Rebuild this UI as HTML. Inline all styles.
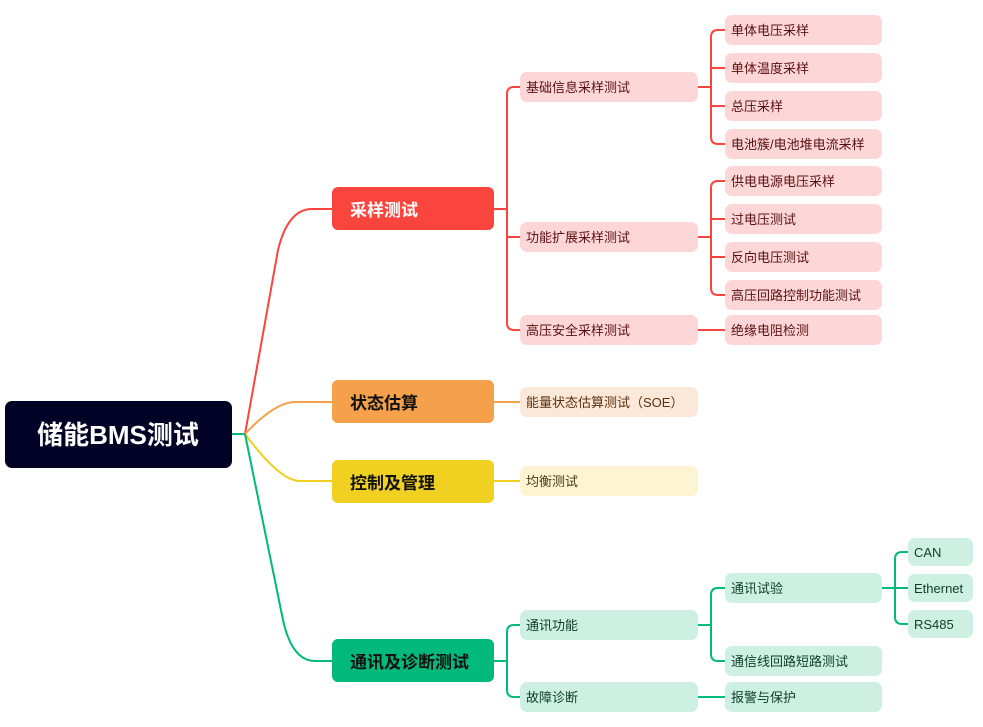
<!DOCTYPE html>
<html><head><meta charset="utf-8"><style>
html,body{margin:0;padding:0;background:#fff;}
svg{display:block;font-family:"Liberation Sans","Noto Sans CJK SC",sans-serif;}
</style></head><body>
<svg width="983" height="727" viewBox="0 0 983 727" xmlns="http://www.w3.org/2000/svg">
<g fill="none" stroke-width="2">
<!-- root to level2 -->
<path d="M232 434 H245" stroke="#00b97a"/>
<path d="M245 434 L278 250 Q288 209 312 209 H332" stroke="#f9453d"/>
<path d="M245 434 Q275 402 295 402 H332" stroke="#f5a04a"/>
<path d="M245 434 Q280 481 300 481 H332" stroke="#f0cf22"/>
<path d="M245 434 L283 620 Q292 661 315 661 H332" stroke="#00b97a"/>
<!-- red -->
<g stroke="#f9453d">
<path d="M494 209 H507"/>
<path d="M520 87 H514 Q507 87 507 94 V323 Q507 330 514 330 H520"/>
<path d="M507 237 H520"/>
<path d="M698 87 H711"/>
<path d="M725 30 H718 Q711 30 711 37 V137 Q711 144 718 144 H725"/>
<path d="M711 68 Q711 68 725 68"/><path d="M711 106 H725"/>
<path d="M698 237 H711"/>
<path d="M725 181 H718 Q711 181 711 188 V288 Q711 295 718 295 H725"/>
<path d="M711 219 H725"/><path d="M711 257 H725"/>
<path d="M698 330 H725"/>
</g>
<path d="M494 402 H520" stroke="#f5a04a"/>
<path d="M494 481 H520" stroke="#f0cf22"/>
<g stroke="#00b97a">
<path d="M482 661 H507"/>
<path d="M520 625 H514 Q507 625 507 632 V690 Q507 697 514 697 H520"/>
<path d="M698 625 H711"/>
<path d="M725 588 H718 Q711 588 711 595 V654 Q711 661 718 661 H725"/>
<path d="M698 697 H725"/>
<path d="M882 588 H895"/>
<path d="M908 552 H902 Q895 552 895 559 V617 Q895 624 902 624 H908"/>
<path d="M895 588 H908"/>
</g>
</g>
<!-- root -->
<rect x="5" y="401" width="227" height="67" rx="7" fill="#020226"/>
<text x="118" y="444" font-size="26" font-weight="bold" fill="#fff" text-anchor="middle">储能BMS测试</text>
<!-- level2 -->
<rect x="332" y="187" width="162" height="43" rx="6" fill="#f9453d"/>
<text x="350" y="216" font-size="17" font-weight="bold" fill="#fff">采样测试</text>
<rect x="332" y="380" width="162" height="43" rx="6" fill="#f5a04a"/>
<text x="350" y="409" font-size="17" font-weight="bold" fill="#111">状态估算</text>
<rect x="332" y="460" width="162" height="43" rx="6" fill="#f0d021"/>
<text x="350" y="489" font-size="17" font-weight="bold" fill="#111">控制及管理</text>
<rect x="332" y="639" width="162" height="43" rx="6" fill="#00b97a"/>
<text x="350" y="668" font-size="17" font-weight="bold" fill="#111">通讯及诊断测试</text>
<!-- level3 -->
<g font-size="13">
<g fill="#fdd7d7">
<rect x="520" y="72" width="178" height="30" rx="7"/>
<rect x="520" y="222" width="178" height="30" rx="7"/>
<rect x="520" y="315" width="178" height="30" rx="7"/>
<rect x="725" y="15" width="157" height="30" rx="7"/>
<rect x="725" y="53" width="157" height="30" rx="7"/>
<rect x="725" y="91" width="157" height="30" rx="7"/>
<rect x="725" y="129" width="157" height="30" rx="7"/>
<rect x="725" y="166" width="157" height="30" rx="7"/>
<rect x="725" y="204" width="157" height="30" rx="7"/>
<rect x="725" y="242" width="157" height="30" rx="7"/>
<rect x="725" y="280" width="157" height="30" rx="7"/>
<rect x="725" y="315" width="157" height="30" rx="7"/>
</g>
<g fill="#5a1010">
<text x="526" y="92">基础信息采样测试</text>
<text x="526" y="242">功能扩展采样测试</text>
<text x="526" y="335">高压安全采样测试</text>
<text x="731" y="35">单体电压采样</text>
<text x="731" y="73">单体温度采样</text>
<text x="731" y="111">总压采样</text>
<text x="731" y="149">电池簇/电池堆电流采样</text>
<text x="731" y="186">供电电源电压采样</text>
<text x="731" y="224">过电压测试</text>
<text x="731" y="262">反向电压测试</text>
<text x="731" y="300">高压回路控制功能测试</text>
<text x="731" y="335">绝缘电阻检测</text>
</g>
<rect x="520" y="387" width="178" height="30" rx="7" fill="#fce8d8"/>
<text x="526" y="407" fill="#5a3010">能量状态估算测试（SOE）</text>
<rect x="520" y="466" width="178" height="30" rx="7" fill="#fcf4d2"/>
<text x="526" y="486" fill="#4a3a10">均衡测试</text>
<g fill="#cdf0e3">
<rect x="520" y="610" width="178" height="30" rx="7"/>
<rect x="520" y="682" width="178" height="30" rx="7"/>
<rect x="725" y="573" width="157" height="30" rx="7"/>
<rect x="725" y="646" width="157" height="30" rx="7"/>
<rect x="725" y="682" width="157" height="30" rx="7"/>
<rect x="908" y="538" width="65" height="28" rx="7"/>
<rect x="908" y="574" width="65" height="28" rx="7"/>
<rect x="908" y="610" width="65" height="28" rx="7"/>
</g>
<g fill="#0f3d2a">
<text x="526" y="630">通讯功能</text>
<text x="526" y="702">故障诊断</text>
<text x="731" y="593">通讯试验</text>
<text x="731" y="666">通信线回路短路测试</text>
<text x="731" y="702">报警与保护</text>
<text x="914" y="557">CAN</text>
<text x="914" y="593">Ethernet</text>
<text x="914" y="629">RS485</text>
</g>
</g>
</svg>
</body></html>
